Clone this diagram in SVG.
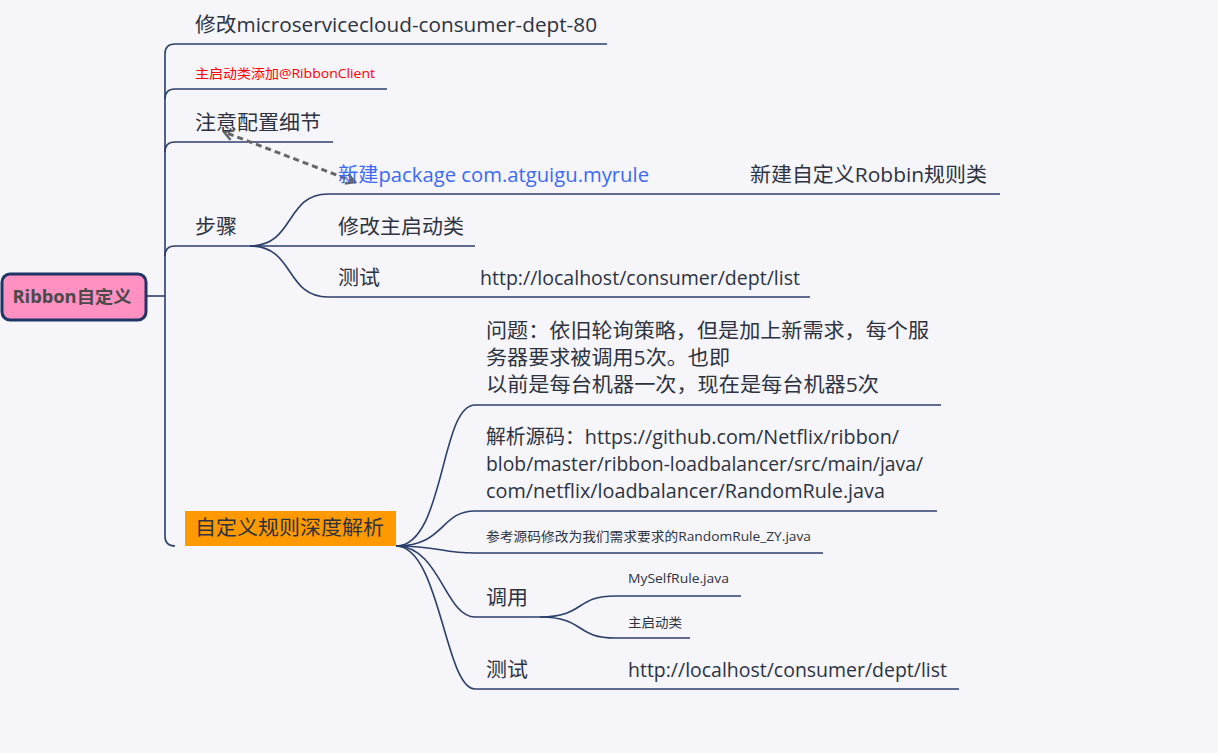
<svg xmlns="http://www.w3.org/2000/svg" width="1218" height="753" viewBox="0 0 1218 753">
<defs>
<style>
.t{font-family:"Open Sans","Noto Sans CJK SC",sans-serif;fill:#2d3340}
.b{font-size:20px}
.s{font-size:13px}
.ln{fill:none;stroke:#2b3f6b;stroke-width:1.6}
</style>
<marker id="ah" viewBox="0 0 12 12" refX="10" refY="6" markerWidth="4.5" markerHeight="4.5" orient="auto-start-reverse" markerUnits="strokeWidth">
<path d="M2,1.5 L10,6 L2,10.5" fill="none" stroke="#666" stroke-width="2.2" stroke-linejoin="miter"/>
</marker>
</defs>
<rect width="1218" height="753" fill="#f5f5fa"/>
<g id="connectors">
<path class="ln" d="M146,296 H165"/>
<path class="ln" d="M175,44 Q165,44 165,54 V536 Q165,546 175,546"/>
<path class="ln" d="M175,89 Q165,89 165,99"/>
<path class="ln" d="M175,142 Q165,142 165,152"/>
<path class="ln" d="M175,246 Q165,246 165,256"/>
<path class="ln" d="M175,44 H607"/>
<path class="ln" d="M175,89 H387"/>
<path class="ln" d="M175,142 H333"/>
<path class="ln" d="M175,246 H250"/>
<path class="ln" d="M250,246 C295,246 285,194 328,194 H1000"/>
<path class="ln" d="M250,246 H475"/>
<path class="ln" d="M250,246 C295,246 285,297 328,297 H810"/>
<path class="ln" d="M396,546 C445,546 440,405 475,405 H941"/>
<path class="ln" d="M396,546 C445,546 440,511 475,511 H937"/>
<path class="ln" d="M396,546 C440,546 440,553 475,553 H823"/>
<path class="ln" d="M396,546 C440,546 445,617 475,617 H540"/>
<path class="ln" d="M396,546 C440,546 445,689 475,689 H959"/>
<path class="ln" d="M540,617 C585,617 575,596 615,596 H741"/>
<path class="ln" d="M540,617 C585,617 575,638 615,638 H690"/>
<path d="M355,182 L224,132" fill="none" stroke="#666" stroke-width="3" stroke-dasharray="6,4" marker-start="url(#ah)" marker-end="url(#ah)"/>
</g>
<g id="root">
<rect x="2" y="274" width="144" height="46" rx="8" fill="#ff90c2" stroke="#1e3566" stroke-width="3"/>
<text x="72" y="303" text-anchor="middle" textLength="119" lengthAdjust="spacingAndGlyphs" style="font-family:'Open Sans','Noto Sans CJK SC',sans-serif;font-size:17px;font-weight:bold;fill:#4a4a4a">Ribbon自定义</text>
</g>
<g id="n1"><text class="t b" x="195" y="32" textLength="402" lengthAdjust="spacingAndGlyphs">修改microservicecloud-consumer-dept-80</text></g>
<g id="n2"><text class="t s" x="195" y="78" textLength="180" lengthAdjust="spacingAndGlyphs" style="fill:#ff0000">主启动类添加@RibbonClient</text></g>
<g id="n3"><text class="t b" x="195" y="130" textLength="126" lengthAdjust="spacingAndGlyphs">注意配置细节</text></g>
<g id="n4"><text class="t b" x="195" y="234" textLength="42" lengthAdjust="spacingAndGlyphs">步骤</text></g>
<g id="n4a"><text class="t b" x="338" y="182" textLength="311" lengthAdjust="spacingAndGlyphs" style="fill:#3d6af0">新建package com.atguigu.myrule</text></g>
<g id="n4a1"><text class="t b" x="750" y="182" textLength="237" lengthAdjust="spacingAndGlyphs">新建自定义Robbin规则类</text></g>
<g id="n4b"><text class="t b" x="338" y="234" textLength="126" lengthAdjust="spacingAndGlyphs">修改主启动类</text></g>
<g id="n4c"><text class="t b" x="338" y="285" textLength="42" lengthAdjust="spacingAndGlyphs">测试</text></g>
<g id="n4c1"><text class="t b" x="480" y="285" textLength="320" lengthAdjust="spacingAndGlyphs">http://localhost/consumer/dept/list</text></g>
<g id="n5">
<rect x="185" y="511" width="211" height="35" fill="#ff9900"/>
<text class="t b" x="195" y="535" textLength="189" lengthAdjust="spacingAndGlyphs">自定义规则深度解析</text>
</g>
<g id="n5a">
<text class="t b" x="486" y="338" textLength="443" lengthAdjust="spacingAndGlyphs">问题：依旧轮询策略，但是加上新需求，每个服</text>
<text class="t b" x="486" y="365" textLength="244" lengthAdjust="spacingAndGlyphs">务器要求被调用5次。也即</text>
<text class="t b" x="486" y="392" textLength="393" lengthAdjust="spacingAndGlyphs">以前是每台机器一次，现在是每台机器5次</text>
</g>
<g id="n5b">
<text class="t b" x="486" y="444" textLength="413" lengthAdjust="spacingAndGlyphs">解析源码：https://github.com/Netflix/ribbon/</text>
<text class="t b" x="486" y="471" textLength="437" lengthAdjust="spacingAndGlyphs">blob/master/ribbon-loadbalancer/src/main/java/</text>
<text class="t b" x="486" y="498" textLength="399" lengthAdjust="spacingAndGlyphs">com/netflix/loadbalancer/RandomRule.java</text>
</g>
<g id="n5c"><text class="t s" x="486" y="541" textLength="325" lengthAdjust="spacingAndGlyphs">参考源码修改为我们需求要求的RandomRule_ZY.java</text></g>
<g id="n5d"><text class="t b" x="486" y="605" textLength="42" lengthAdjust="spacingAndGlyphs">调用</text></g>
<g id="n5d1"><text class="t s" x="628" y="583" textLength="101" lengthAdjust="spacingAndGlyphs">MySelfRule.java</text></g>
<g id="n5d2"><text class="t s" x="628" y="627" textLength="54" lengthAdjust="spacingAndGlyphs">主启动类</text></g>
<g id="n5e"><text class="t b" x="486" y="677" textLength="42" lengthAdjust="spacingAndGlyphs">测试</text></g>
<g id="n5e1"><text class="t b" x="628" y="677" textLength="319" lengthAdjust="spacingAndGlyphs">http://localhost/consumer/dept/list</text></g>
</svg>
